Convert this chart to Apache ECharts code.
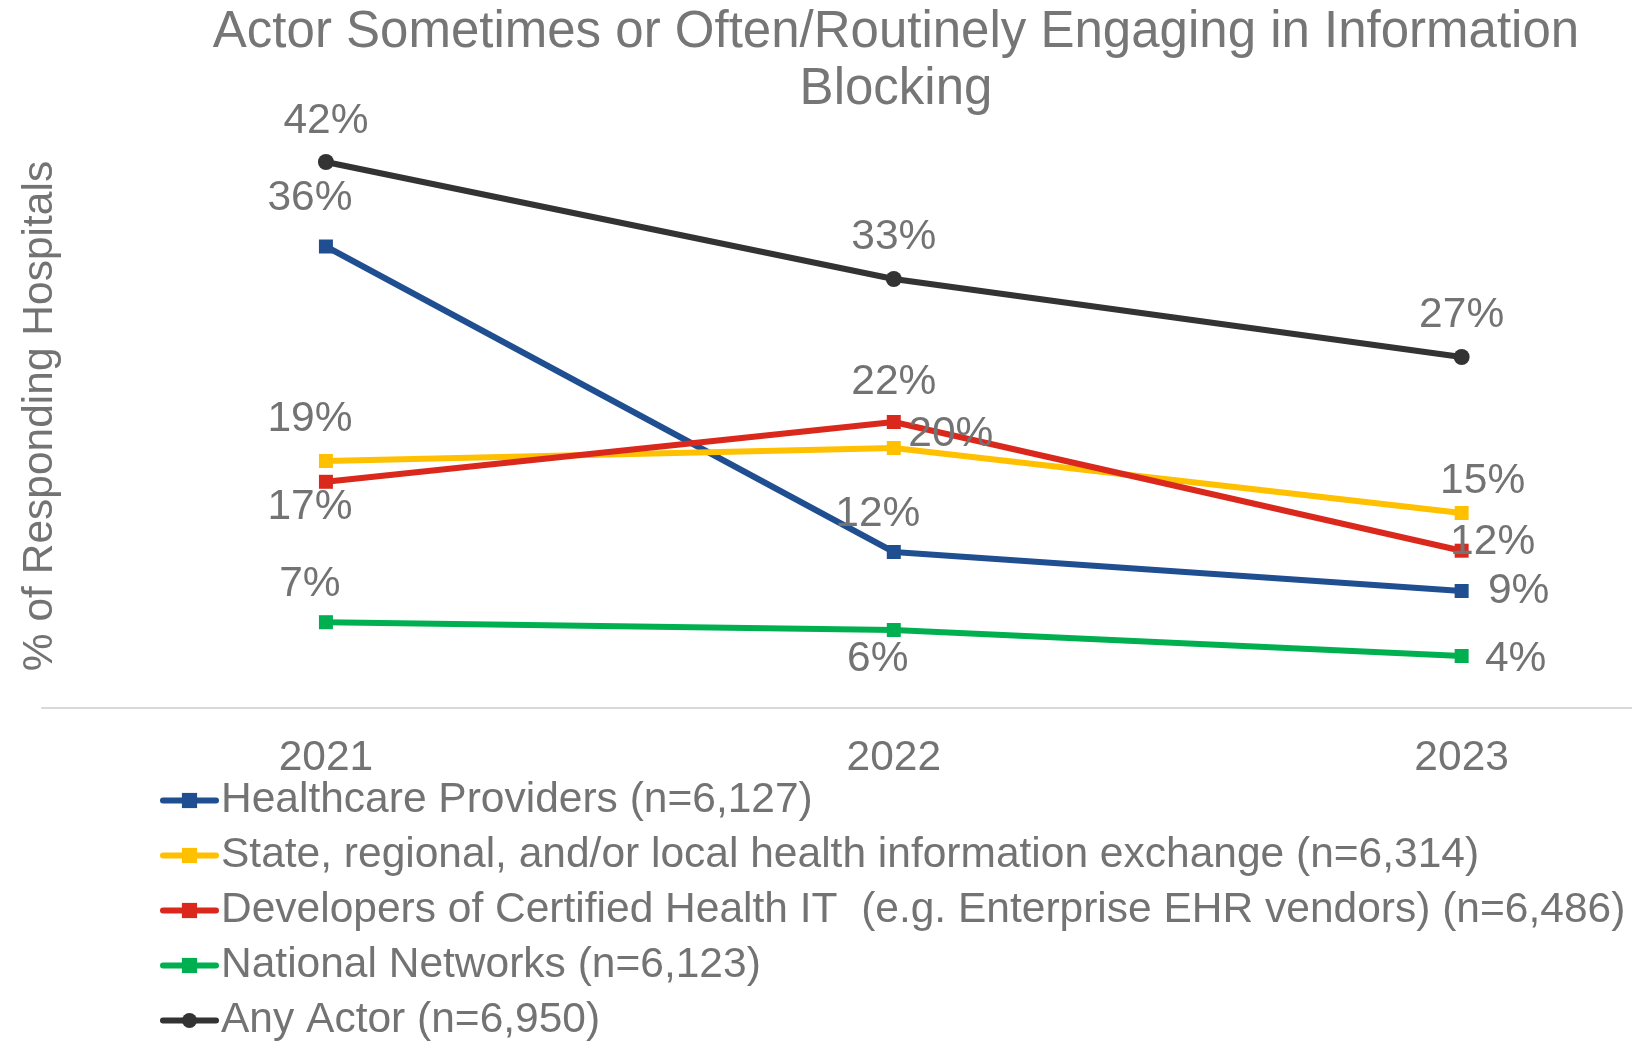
<!DOCTYPE html>
<html>
<head>
<meta charset="utf-8">
<script src="https://cdn.jsdelivr.net/npm/echarts@6/dist/echarts.min.js"></script>
<style>
html,body{margin:0;padding:0;background:#fff;}
#chart{width:1632px;height:1042px;}
</style>
</head>
<body>
<div id="chart"></div>
<script>
var FONT='"Liberation Sans", Arial, sans-serif';
var TEXTCOL='#737373';
var FS=42.5;

// data
var years=[2021,2022,2023];
var providers=[35.5,12.0,9.0];
var hie=[19.0,20.0,15.0];
var developers=[17.4,22.0,12.1];
var networks=[6.6,6.0,4.0];
var anyActor=[42,33,27];

var names=[
    'Healthcare Providers (n=6,127)',
    'State, regional, and/or local health information exchange (n=6,314)',
    'Developers of Certified Health IT  (e.g. Enterprise EHR vendors) (n=6,486)',
    'National Networks (n=6,123)',
    'Any Actor (n=6,950)'
];
var colors=['#1F4E91','#FFC000','#DA291C','#00B050','#333333'];

// label placement (offset of label centre from the point)
var offsets=[
    [[-16,-48],[-16,-38],[57,0]],
    [[-16,-42],[57,-14],[21,-32]],
    [[-16,25],[0,-40],[31,-8]],
    [[-16,-38],[-16,29],[54,3]],
    [[0,-41],[0,-42],[0,-42]]
];

var values=[providers,hie,developers,networks,anyActor];

var myChart=echarts.init(document.getElementById('chart'));

var series=[];
for(var s=0;s<values.length;s++){
    var d=[];
    for(var i=0;i<values[s].length;i++){
        d.push({
            value:[years[i],values[s][i]],
            label:{offset:offsets[s][i]}
        });
    }
    series.push({
        name:names[s],
        type:'line',
        data:d,
        symbol:s==4?'circle':'rect',
        symbolSize:s==4?16:14,
        color:colors[s],
        lineStyle:{width:6,color:colors[s]},
        itemStyle:{color:colors[s]},
        z:s==4?5:2,
        label:{
            show:true,
            position:'inside',
            fontFamily:FONT,
            fontSize:FS,
            color:TEXTCOL,
            formatter:function(p){return Math.round(p.value[1])+'%';}
        }
    });
}

var option={
    backgroundColor:'#fff',
    animation:false,
    title:{
        text:'Actor Sometimes or Often/Routinely Engaging in Information\nBlocking',
        left:896,
        top:4,
        padding:0,
        textAlign:'center',
        textStyle:{fontFamily:FONT,fontSize:51,fontWeight:'normal',color:'#767676',lineHeight:57}
    },
    legend:{
        orient:'vertical',
        left:160,
        top:773,
        height:300,
        padding:0,
        itemGap:0,
        itemWidth:53,
        itemHeight:19,
        lineStyle:{width:6,cap:'round'},
        data:names,
        textStyle:{fontFamily:FONT,fontSize:FS,color:TEXTCOL,lineHeight:55}
    },
    graphic:[{
        type:'text',
        x:40,
        y:416,
        rotation:Math.PI/2,
        style:{
            text:'% of Responding Hospitals',
            font:FS+'px '+FONT,
            fill:TEXTCOL,
            textAlign:'center',
            textVerticalAlign:'middle'
        }
    }],
    grid:{left:42,right:0,top:58,height:650},
    xAxis:{
        type:'value',
        min:2020.5,
        max:2023.3,
        splitLine:{show:false},
        axisLine:{show:true,onZero:false,lineStyle:{color:'#d9d9d9',width:2}},
        axisTick:{show:false},
        axisLabel:{
            customValues:years,
            fontFamily:FONT,fontSize:FS,color:TEXTCOL,margin:29,lineHeight:42,
            formatter:function(v){return String(v);}
        }
    },
    yAxis:{
        type:'value',
        min:0,
        max:50,
        show:false
    },
    series:series
};
myChart.setOption(option);
</script>
</body>
</html>
